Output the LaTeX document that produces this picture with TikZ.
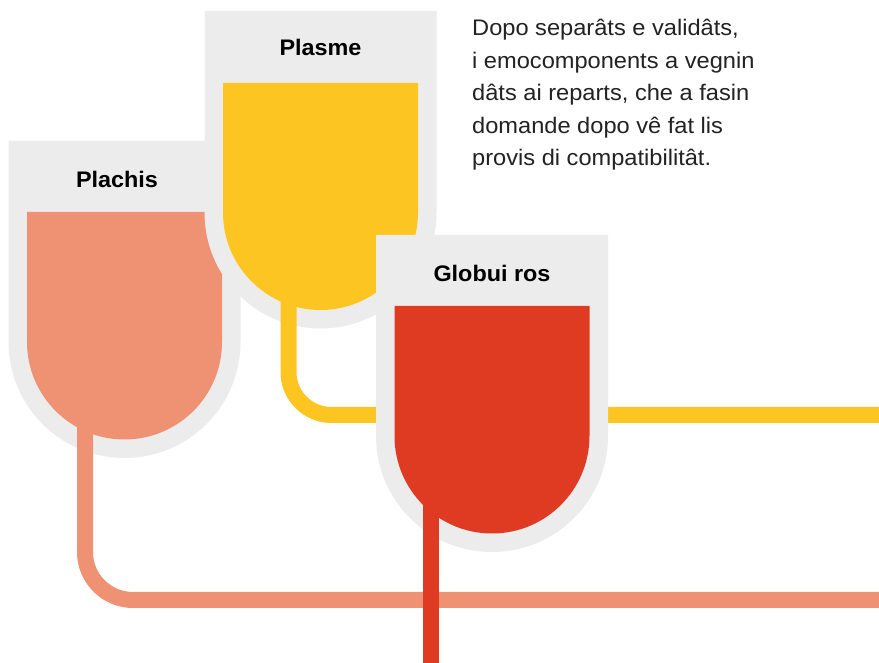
\documentclass[tikz,border=0pt]{standalone}
\usepackage{fontspec}
\setmainfont{Liberation Sans}
\newfontfamily\bodyfont{Liberation Sans}[FakeStretch=1.05]
\newfontfamily\labelfont{Liberation Sans Bold}[FakeStretch=1.04]
\definecolor{bagGrey}{HTML}{ECECEC}
\definecolor{salmon}{HTML}{EF9173}
\definecolor{yolk}{HTML}{FDC521}
\definecolor{bloodred}{HTML}{DF3A22}
\definecolor{inkgrey}{HTML}{222222}
\tikzset{
  tube/.style={line width=16pt, line cap=butt},
  baglabel/.style={font=\labelfont\fontsize{22.5}{26}\selectfont, inner sep=0pt, anchor=base},
}
% #1 cx, #2 cy, #3 outer top, #4 inner top, #5 colour
\newcommand{\bagdraw}[5]{%
  \fill[bagGrey] (#1-116,#3) -- (#1+116,#3) -- (#1+116,#2) arc[start angle=0,end angle=-180,radius=116] -- cycle;
  \fill[#5] (#1-97.5,#4) -- (#1+97.5,#4) -- (#1+97.5,#2) arc[start angle=0,end angle=-180,radius=97.5] -- cycle;
}
\begin{document}
\begin{tikzpicture}[x=1pt,y=1pt]
\useasboundingbox (0,0) rectangle (879,663);
\fill[white] (0,0) rectangle (879,663);
% Plachis
\bagdraw{124.5}{321}{522}{451}{salmon}
\node[baglabel] (plachis) at (117,475) {Plachis};
\coordinate (plachisTop) at (85,238);
\coordinate (plachisEnd) at (879,63);
\draw[tube, salmon, rounded corners=48pt] (plachisTop) -- (85,63) -- (plachisEnd);
% Plasme
\bagdraw{320.5}{450.5}{652}{580}{yolk}
\node[baglabel] (plasme) at (320.5,607.5) {Plasme};
\coordinate (plasmeTop) at (288.5,363);
\coordinate (plasmeEnd) at (879,248);
\draw[tube, yolk, rounded corners=43pt] (plasmeTop) -- (288.5,248) -- (plasmeEnd);
% Globui ros
\bagdraw{492}{227}{428}{357}{bloodred}
\node[baglabel] (globui) at (492,381) {Globui ros};
\coordinate (globuiTop) at (431,163);
\coordinate (globuiEnd) at (431,0);
\draw[tube, bloodred] (globuiTop) -- (globuiEnd);
% text
\node[anchor=north west, inner sep=0pt, align=left, font=\bodyfont\fontsize{22.5}{32.6}\selectfont, text=inkgrey] (txt) at (472,644)
{Dopo separâts e validâts,\\i emocomponents a vegnin\\dâts ai reparts, che a fasin\\domande dopo vê fat lis\\provis di compatibilitât.};
\end{tikzpicture}
\end{document}
